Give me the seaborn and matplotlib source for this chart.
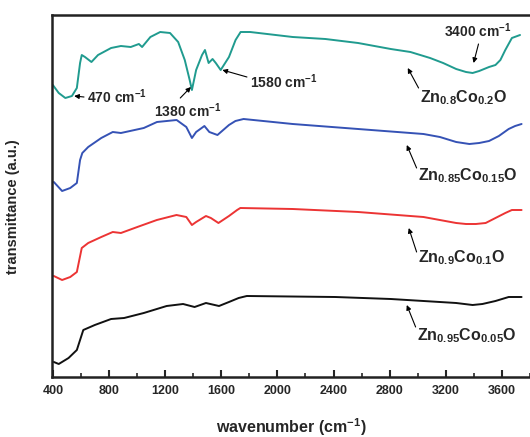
import pandas as pd
import matplotlib
matplotlib.use("Agg")
import matplotlib.pyplot as plt
import seaborn as sns

# wavenumber (cm-1) and transmittance (a.u., curves offset)
wn_20 = [400, 442, 489, 536, 571, 594, 606, 629, 675, 722, 815, 885, 955, 1013, 1036,
         1095, 1165, 1235, 1293, 1340, 1375, 1391, 1421, 1463, 1484, 1510, 1538, 1561,
         1596, 1655, 1702, 1738, 1806, 2109, 2342, 2575, 2808, 2948, 3088, 3181, 3274,
         3344, 3391, 3438, 3508, 3554, 3589, 3624, 3671, 3729]
t_20 = [292, 284, 279, 281, 289, 314, 322, 320, 315, 322, 329, 331, 330, 333, 330,
        340, 345, 344, 335, 317, 297, 287, 307, 322, 327, 314, 318, 314,
        307, 320, 337, 345, 345, 340, 338, 334, 328, 325, 319, 314, 308,
        305, 304, 306, 310, 312, 317, 327, 339, 342]

wn_15 = [407, 466, 524, 571, 594, 610, 652, 745, 827, 885, 1048, 1142, 1282, 1351,
         1391, 1421, 1480, 1515, 1573, 1655, 1701, 1759, 2109, 2575, 3041, 3158, 3274,
         3368, 3438, 3508, 3578, 3648, 3694, 3740]
t_15 = [195, 186, 189, 194, 217, 224, 230, 239, 245, 244, 249, 255, 257, 250,
        239, 245, 251, 245, 242, 252, 256, 258, 253, 248, 243, 240, 235,
        233, 234, 236, 241, 248, 251, 253]

wn_10 = [407, 466, 524, 571, 606, 652, 745, 827, 885, 1002, 1141, 1281, 1351, 1391,
         1421, 1491, 1526, 1580, 1655, 1713, 1736, 2109, 2575, 3041, 3274, 3344, 3414,
         3484, 3554, 3624, 3671, 3740]
t_10 = [101, 97, 100, 105, 129, 134, 140, 145, 144, 150, 157, 162, 160, 152,
        155, 161, 159, 154, 161, 167, 169, 168, 165, 160, 154, 153, 153,
        154, 159, 164, 167, 167]

wn_05 = [407, 442, 512, 571, 594, 617, 699, 815, 908, 1048, 1211, 1328, 1410, 1491,
         1584, 1655, 1724, 1782, 2412, 2808, 3158, 3274, 3391, 3461, 3554, 3648, 3740]
t_05 = [15, 13, 19, 27, 37, 47, 52, 58, 59, 64, 71, 73, 70, 74,
        71, 75, 79, 81, 80, 78, 75, 74, 72, 73, 76, 80, 80]

x_ticks = [400, 800, 1200, 1600, 2000, 2400, 2800, 3200, 3600]

sns.set_style("ticks")
plt.rcParams["font.family"] = ["Liberation Sans", "DejaVu Sans"]
plt.rcParams["font.weight"] = "bold"
plt.rcParams["mathtext.fontset"] = "custom"
plt.rcParams["mathtext.rm"] = "Liberation Sans:bold"
plt.rcParams["mathtext.it"] = "Liberation Sans:bold"
plt.rcParams["mathtext.bf"] = "Liberation Sans:bold"
plt.rcParams["mathtext.default"] = "rm"

fig = plt.figure(figsize=(5.3, 4.37), dpi=100)
ax = fig.add_axes([52 / 530, 60 / 437, 478 / 530, 362 / 437])

series = [
    (wn_20, t_20, "#209b8f"),
    (wn_15, t_15, "#3552b5"),
    (wn_10, t_10, "#ec3434"),
    (wn_05, t_05, "#111111"),
]
for wn, t, col in series:
    df = pd.DataFrame({"wn": wn, "t": t})
    sns.lineplot(data=df, x="wn", y="t", ax=ax, color=col, lw=1.4, sort=False)

ax.set_xlim(394, 3740)
ax.set_ylim(0, 362)
ax.set_xticks(x_ticks)
ax.set_xticks([v + 200 for v in x_ticks], minor=True)
ax.set_yticks([])
ax.tick_params(axis="x", direction="in", length=5, width=1.5, labelsize=9, pad=6)
ax.tick_params(axis="x", which="minor", direction="in", length=3, width=1.2)
for lab in ax.get_xticklabels():
    lab.set_fontweight("bold")
for side in ["left", "bottom", "top"]:
    ax.spines[side].set_linewidth(1.8)
    ax.spines[side].set_color("#222222")
ax.spines["right"].set_visible(False)

ax.set_xlabel("wavenumber (cm$^{-1}$)", fontsize=11.5, fontweight="bold", labelpad=14)
ax.set_ylabel("transmittance (a.u.)", fontsize=10.5, fontweight="bold")
ax.yaxis.set_label_coords(-0.067, 0.472)

arrow = dict(arrowstyle="-|>", color="black", lw=0.8, mutation_scale=7,
             shrinkA=0, shrinkB=0)

# peak labels
ax.annotate("", xy=(552, 281), xytext=(622, 280), arrowprops=arrow)
ax.text(643, 274, "470 cm$^{-1}$", fontsize=10, fontweight="bold", va="baseline")
ax.annotate("", xy=(1384, 290), xytext=(1308, 279), arrowprops=arrow)
ax.text(1364, 260, "1380 cm$^{-1}$", fontsize=10, fontweight="bold", va="baseline",
        ha="center")
ax.annotate("", xy=(1608, 307), xytext=(1783, 300), arrowprops=arrow)
ax.text(1804, 289, "1580 cm$^{-1}$", fontsize=10, fontweight="bold", va="baseline")
ax.annotate("", xy=(3398, 314), xytext=(3433, 333), arrowprops=arrow)
ax.text(3426, 340, "3400 cm$^{-1}$", fontsize=10, fontweight="bold", va="baseline",
        ha="center")

# sample labels
samples = [
    ("Zn$_{0.8}$Co$_{0.2}$O", (2929, 309), (3006, 289), 275),
    ("Zn$_{0.85}$Co$_{0.15}$O", (2922, 232), (2992, 209), 197),
    ("Zn$_{0.9}$Co$_{0.1}$O", (2936, 149), (2992, 125), 115),
    ("Zn$_{0.95}$Co$_{0.05}$O", (2922, 72), (2985, 50), 37),
]
for label, head, tail, base in samples:
    ax.annotate("", xy=head, xytext=tail, arrowprops=arrow)
    ax.text(tail[0] + 10, base, label, fontsize=11.5, fontweight="bold", va="baseline")

fig.savefig("out.png", dpi=100)
